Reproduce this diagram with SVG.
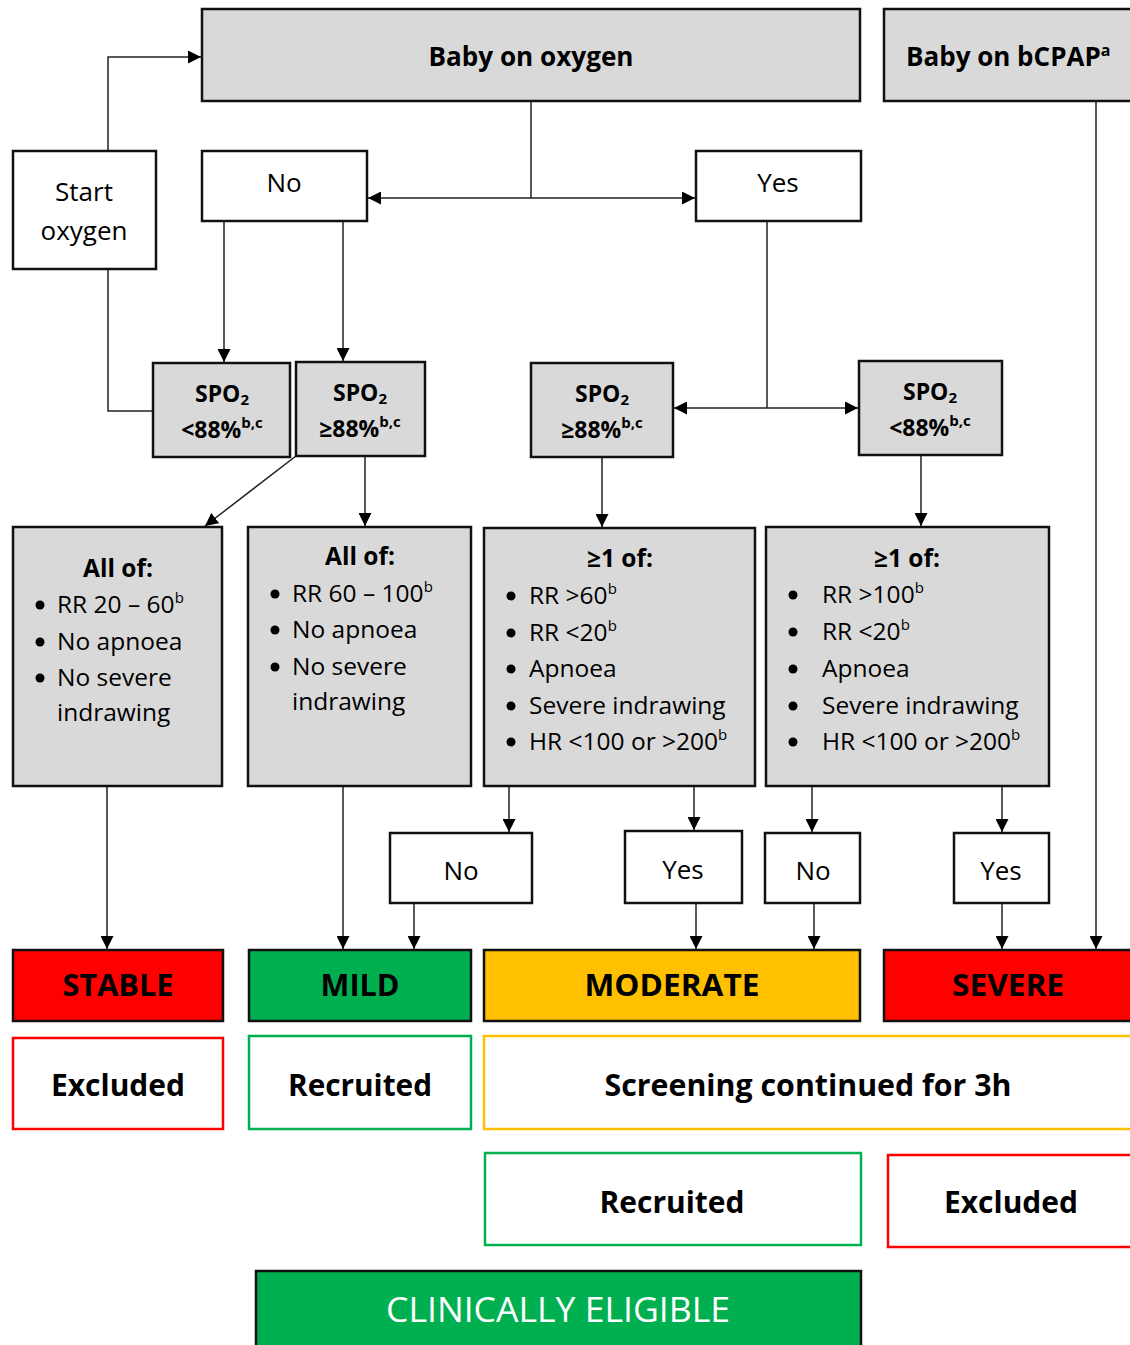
<svg xmlns="http://www.w3.org/2000/svg" width="1130" height="1345" viewBox="0 0 1130 1345">
<defs>
<marker id="arr" markerWidth="13" markerHeight="13" refX="13" refY="6.5" orient="auto" markerUnits="userSpaceOnUse">
<path d="M0,0 L13,6.5 L0,13 z" fill="#000"/>
</marker>
<style>
text{font-family:"Open Sans","Noto Sans","DejaVu Sans",sans-serif;fill:#000}
.grey{fill:#D9D9D9;stroke:#111;stroke-width:2.5}
.white{fill:#fff;stroke:#111;stroke-width:2.5}
.t26{font-size:26px}
.b{font-weight:bold}
.mid{text-anchor:middle}
.li{font-size:24.5px}
.spo{font-size:23px;font-weight:bold;text-anchor:middle}
.stage{font-size:30px;font-weight:bold;text-anchor:middle}
.out{font-size:30px;font-weight:bold;text-anchor:middle}
.conn path{fill:none;stroke:#222;stroke-width:1.5}
.arr{marker-end:url(#arr)}
.dot{fill:#000}
</style>
</defs>
<rect width="1130" height="1345" fill="#fff"/>

<g id="connectors" class="conn">
<path class="arr" d="M108,151 V57 H201"/>
<path d="M108,269 V411 H153"/>
<path d="M531,101 V198"/>
<path class="arr" d="M531,198 H368"/>
<path class="arr" d="M531,198 H695"/>
<path class="arr" d="M224,221 V362"/>
<path class="arr" d="M343,221 V361"/>
<path d="M767,221 V408"/>
<path class="arr" d="M767,408 H674"/>
<path class="arr" d="M767,408 H858"/>
<path class="arr" d="M296,456 L205,526"/>
<path class="arr" d="M365,456 V526"/>
<path class="arr" d="M602,457 V527"/>
<path class="arr" d="M921,455 V526"/>
<path class="arr" d="M509,786 V832"/>
<path class="arr" d="M694,786 V830"/>
<path class="arr" d="M812,786 V832"/>
<path class="arr" d="M1002,786 V832"/>
<path class="arr" d="M107,786 V949"/>
<path class="arr" d="M343,786 V949"/>
<path class="arr" d="M414,903 V949"/>
<path class="arr" d="M696,903 V949"/>
<path class="arr" d="M814,903 V949"/>
<path class="arr" d="M1002,903 V949"/>
<path class="arr" d="M1096,101 V949"/>
</g>

<g id="baby-oxygen">
<rect class="grey" x="202" y="9" width="658" height="92"/>
<text class="t26 b mid" x="531" y="66" textLength="205" lengthAdjust="spacingAndGlyphs">Baby on oxygen</text>
</g>
<g id="baby-bcpap">
<rect class="grey" x="884" y="9" width="260" height="92"/>
<text class="t26 b" x="906" y="66">Baby on bCPAP<tspan font-size="16" dy="-10">a</tspan></text>
</g>
<g id="start-oxygen">
<rect class="white" x="13" y="151" width="143" height="118"/>
<text class="t26 mid" x="84" y="201">Start</text>
<text class="t26 mid" x="84" y="240">oxygen</text>
</g>
<g id="no-top">
<rect class="white" x="202" y="151" width="165" height="70"/>
<text class="t26 mid" x="284" y="192">No</text>
</g>
<g id="yes-top">
<rect class="white" x="696" y="151" width="165" height="70"/>
<text class="t26 mid" x="778" y="192">Yes</text>
</g>

<g id="spo2-lt88-left">
<rect class="grey" x="153" y="363" width="137" height="94"/>
<text class="spo" x="222" y="402">SPO<tspan font-size="15" dy="3">2</tspan></text>
<text class="spo" x="222" y="438">&lt;88%<tspan font-size="15" dy="-10">b,c</tspan></text>
</g>
<g id="spo2-ge88-left">
<rect class="grey" x="296" y="362" width="129" height="94"/>
<text class="spo" x="360" y="401">SPO<tspan font-size="15" dy="3">2</tspan></text>
<text class="spo" x="360" y="437">≥88%<tspan font-size="15" dy="-10">b,c</tspan></text>
</g>
<g id="spo2-ge88-right">
<rect class="grey" x="531" y="363" width="142" height="94"/>
<text class="spo" x="602" y="402">SPO<tspan font-size="15" dy="3">2</tspan></text>
<text class="spo" x="602" y="438">≥88%<tspan font-size="15" dy="-10">b,c</tspan></text>
</g>
<g id="spo2-lt88-right">
<rect class="grey" x="859" y="361" width="143" height="94"/>
<text class="spo" x="930" y="400">SPO<tspan font-size="15" dy="3">2</tspan></text>
<text class="spo" x="930" y="436">&lt;88%<tspan font-size="15" dy="-10">b,c</tspan></text>
</g>

<g id="criteria-stable">
<rect class="grey" x="13" y="527" width="209" height="259"/>
<text class="li b mid" x="118" y="577">All of:</text>
<circle class="dot" cx="40" cy="605" r="4.5"/>
<circle class="dot" cx="40" cy="642" r="4.5"/>
<circle class="dot" cx="40" cy="678" r="4.5"/>
<text class="li" x="57" y="613">RR 20 – 60<tspan font-size="15" dy="-10">b</tspan></text>
<text class="li" x="57" y="650">No apnoea</text>
<text class="li" x="57" y="686">No severe</text>
<text class="li" x="57" y="721">indrawing</text>
</g>
<g id="criteria-mild">
<rect class="grey" x="248" y="527" width="223" height="259"/>
<text class="li b mid" x="360" y="565">All of:</text>
<circle class="dot" cx="275" cy="594" r="4.5"/>
<circle class="dot" cx="275" cy="630" r="4.5"/>
<circle class="dot" cx="275" cy="667" r="4.5"/>
<text class="li" x="292" y="602">RR 60 – 100<tspan font-size="15" dy="-10">b</tspan></text>
<text class="li" x="292" y="638">No apnoea</text>
<text class="li" x="292" y="675">No severe</text>
<text class="li" x="292" y="710">indrawing</text>
</g>
<g id="criteria-moderate">
<rect class="grey" x="484" y="528" width="271" height="258"/>
<text class="li b mid" x="620" y="567">≥1 of:</text>
<circle class="dot" cx="511" cy="596" r="4.5"/>
<circle class="dot" cx="511" cy="633" r="4.5"/>
<circle class="dot" cx="511" cy="669" r="4.5"/>
<circle class="dot" cx="511" cy="706" r="4.5"/>
<circle class="dot" cx="511" cy="742" r="4.5"/>
<text class="li" x="529" y="604">RR &gt;60<tspan font-size="15" dy="-10">b</tspan></text>
<text class="li" x="529" y="641">RR &lt;20<tspan font-size="15" dy="-10">b</tspan></text>
<text class="li" x="529" y="677">Apnoea</text>
<text class="li" x="529" y="714">Severe indrawing</text>
<text class="li" x="529" y="750">HR &lt;100 or &gt;200<tspan font-size="15" dy="-10">b</tspan></text>
</g>
<g id="criteria-severe">
<rect class="grey" x="766" y="527" width="283" height="259"/>
<text class="li b mid" x="907" y="567">≥1 of:</text>
<circle class="dot" cx="793" cy="595" r="4.5"/>
<circle class="dot" cx="793" cy="632" r="4.5"/>
<circle class="dot" cx="793" cy="669" r="4.5"/>
<circle class="dot" cx="793" cy="706" r="4.5"/>
<circle class="dot" cx="793" cy="742" r="4.5"/>
<text class="li" x="822" y="603">RR &gt;100<tspan font-size="15" dy="-10">b</tspan></text>
<text class="li" x="822" y="640">RR &lt;20<tspan font-size="15" dy="-10">b</tspan></text>
<text class="li" x="822" y="677">Apnoea</text>
<text class="li" x="822" y="714">Severe indrawing</text>
<text class="li" x="822" y="750">HR &lt;100 or &gt;200<tspan font-size="15" dy="-10">b</tspan></text>
</g>

<g id="no-moderate">
<rect class="white" x="390" y="833" width="142" height="70"/>
<text class="t26 mid" x="461" y="880">No</text>
</g>
<g id="yes-moderate">
<rect class="white" x="625" y="831" width="117" height="72"/>
<text class="t26 mid" x="683" y="879">Yes</text>
</g>
<g id="no-severe">
<rect class="white" x="765" y="833" width="95" height="70"/>
<text class="t26 mid" x="813" y="880">No</text>
</g>
<g id="yes-severe">
<rect class="white" x="954" y="833" width="95" height="70"/>
<text class="t26 mid" x="1001" y="880">Yes</text>
</g>

<g id="stable">
<rect x="13" y="950" width="210" height="71" fill="#FF0000" stroke="#111" stroke-width="2.5"/>
<text class="stage" x="118" y="996" textLength="111" lengthAdjust="spacingAndGlyphs">STABLE</text>
</g>
<g id="mild">
<rect x="249" y="950" width="222" height="71" fill="#00B050" stroke="#111" stroke-width="2.5"/>
<text class="stage" x="360" y="996" textLength="79" lengthAdjust="spacingAndGlyphs">MILD</text>
</g>
<g id="moderate">
<rect x="484" y="950" width="376" height="71" fill="#FFC000" stroke="#111" stroke-width="2.5"/>
<text class="stage" x="672" y="996" textLength="175" lengthAdjust="spacingAndGlyphs">MODERATE</text>
</g>
<g id="severe">
<rect x="884" y="950" width="260" height="71" fill="#FF0000" stroke="#111" stroke-width="2.5"/>
<text class="stage" x="1008" y="996" textLength="112" lengthAdjust="spacingAndGlyphs">SEVERE</text>
</g>

<g id="excluded-stable">
<rect x="13" y="1038" width="210" height="91" fill="#fff" stroke="#FF0000" stroke-width="2.5"/>
<text class="out" x="118" y="1096" textLength="134" lengthAdjust="spacingAndGlyphs">Excluded</text>
</g>
<g id="recruited-mild">
<rect x="249" y="1036" width="222" height="93" fill="#fff" stroke="#00B050" stroke-width="2.5"/>
<text class="out" x="360" y="1096" textLength="144" lengthAdjust="spacingAndGlyphs">Recruited</text>
</g>
<g id="screening">
<rect x="484" y="1036" width="660" height="93" fill="#fff" stroke="#FFC000" stroke-width="2.5"/>
<text class="out" x="808" y="1096" textLength="407" lengthAdjust="spacingAndGlyphs">Screening continued for 3h</text>
</g>
<g id="recruited-moderate">
<rect x="485" y="1153" width="376" height="92" fill="#fff" stroke="#00B050" stroke-width="2.5"/>
<text class="out" x="672" y="1213" textLength="145" lengthAdjust="spacingAndGlyphs">Recruited</text>
</g>
<g id="excluded-severe">
<rect x="888" y="1155" width="260" height="92" fill="#fff" stroke="#FF0000" stroke-width="2.5"/>
<text class="out" x="1011" y="1213" textLength="134" lengthAdjust="spacingAndGlyphs">Excluded</text>
</g>
<g id="clinically-eligible">
<rect x="256" y="1271" width="605" height="85" fill="#00B050" stroke="#111" stroke-width="2.5"/>
<text x="558" y="1322" font-size="34" text-anchor="middle" style="fill:#fff" textLength="344" lengthAdjust="spacingAndGlyphs">CLINICALLY ELIGIBLE</text>
</g>
</svg>
